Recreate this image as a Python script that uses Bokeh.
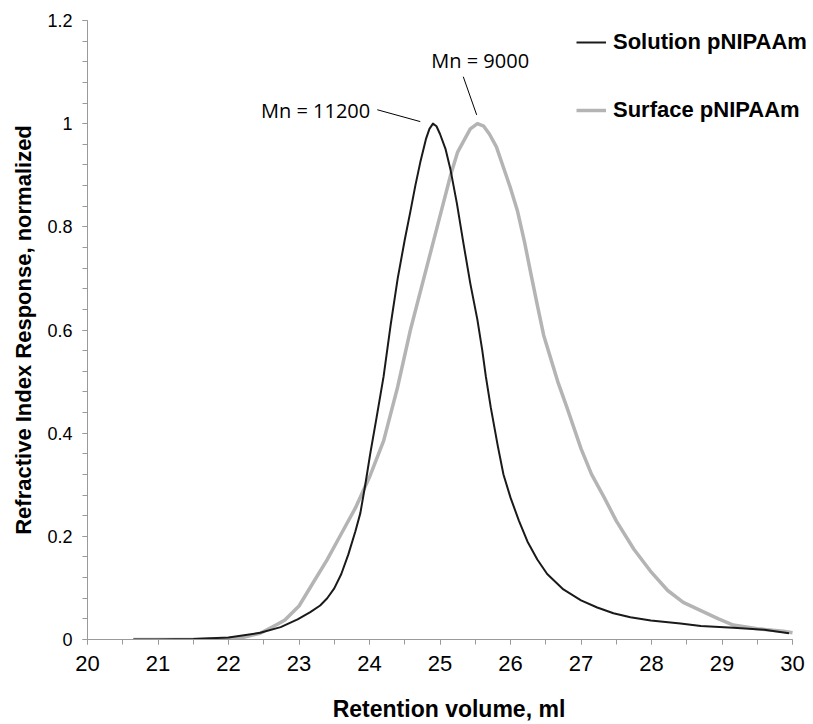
from bokeh.plotting import figure
from bokeh.models import Range1d, FixedTicker, Legend, LegendItem, Label
from bokeh.embed import file_html
from bokeh.resources import INLINE

# ---- data ----
solution_x = [20.65, 21.0, 21.5, 22.0, 22.45, 22.74, 22.98, 23.16, 23.3, 23.4,
              23.5, 23.6, 23.7, 23.8, 23.87, 23.94, 24.01, 24.1, 24.2, 24.3,
              24.4, 24.5, 24.58, 24.65, 24.72, 24.8, 24.85, 24.9, 24.95, 25.0,
              25.08, 25.15, 25.24, 25.33, 25.43, 25.53, 25.6, 25.65, 25.72, 25.82,
              25.9, 26.0, 26.12, 26.24, 26.38, 26.52, 26.75, 27.0, 27.23, 27.46,
              27.7, 27.99, 28.41, 28.7, 29.16, 29.6, 29.95]
solution_y = [0.0, 0.0, 0.001, 0.004, 0.013, 0.024, 0.039, 0.053, 0.066, 0.08,
              0.099, 0.127, 0.165, 0.21, 0.245, 0.30, 0.36, 0.43, 0.51, 0.61,
              0.70, 0.775, 0.83, 0.88, 0.925, 0.97, 0.99, 1.0, 0.995, 0.98,
              0.95, 0.91, 0.845, 0.77, 0.69, 0.62, 0.56, 0.51, 0.45, 0.375,
              0.32, 0.275, 0.23, 0.19, 0.155, 0.127, 0.097, 0.076, 0.062, 0.051,
              0.043, 0.037, 0.031, 0.026, 0.023, 0.019, 0.012]

surface_x = [20.65, 21.0, 21.5, 22.0, 22.2, 22.45, 22.7, 22.8, 23.0, 23.2,
             23.4, 23.6, 23.8, 24.0, 24.2, 24.4, 24.58, 24.77, 24.96, 25.15,
             25.25, 25.35, 25.43, 25.53, 25.62, 25.7, 25.8, 25.9, 26.0, 26.1,
             26.2, 26.28, 26.37, 26.47, 26.57, 26.67, 26.8, 27.0, 27.15, 27.33,
             27.5, 27.75, 28.0, 28.23, 28.45, 28.7, 28.95, 29.16, 29.5, 29.87,
             30.0]
surface_y = [0.0, 0.0, 0.0, 0.002, 0.004, 0.012, 0.03, 0.038, 0.065, 0.11,
             0.155, 0.205, 0.255, 0.315, 0.385, 0.49, 0.60, 0.70, 0.80, 0.90,
             0.945, 0.97, 0.99, 1.0, 0.995, 0.98, 0.955, 0.915, 0.875, 0.83,
             0.77, 0.715, 0.655, 0.59, 0.545, 0.50, 0.45, 0.37, 0.32, 0.275,
             0.23, 0.175, 0.13, 0.095, 0.072, 0.056, 0.04, 0.028, 0.021, 0.016,
             0.013]

series_names = ["Solution pNIPAAm", "Surface pNIPAAm"]

y_ticks = [0, 0.2, 0.4, 0.6, 0.8, 1, 1.2]
y_tick_labels = ["0", "0.2", "0.4", "0.6", "0.8", "1", "1.2"]
x_ticks = [20, 21, 22, 23, 24, 25, 26, 27, 28, 29, 30]

annot_texts = ["Mn = 11200", "Mn = 9000"]
annot_text_x = [24.01, 25.57]
annot_text_y = [1.025, 1.122]
leader_x0 = [24.11, 25.33]
leader_y0 = [1.027, 1.091]
leader_x1 = [24.72, 25.52]
leader_y1 = [1.004, 1.017]

# ---- figure ----
p = figure(width=813, height=724, output_backend="svg", toolbar_location=None,
           x_range=Range1d(20, 30.255), y_range=Range1d(0, 1.2),
           min_border_left=87, min_border_right=3, min_border_top=20, min_border_bottom=85)
p.outline_line_color = None
p.grid.grid_line_color = None
p.background_fill_color = "white"
p.border_fill_color = "white"

axis_col = "#9a9a9a"

# x axis
xa = p.xaxis[0]
xa.bounds = (20, 30)
xa.ticker = FixedTicker(ticks=x_ticks, minor_ticks=[20 + 0.5 * i for i in range(21)])
xa.axis_line_color = axis_col
xa.major_tick_line_color = axis_col
xa.minor_tick_line_color = axis_col
xa.major_tick_in = 0
xa.major_tick_out = 5
xa.minor_tick_in = 0
xa.minor_tick_out = 5
xa.major_label_text_font = "Liberation Sans"
xa.major_label_text_font_size = "22px"
xa.major_label_text_color = "black"
xa.major_label_standoff = 11
xa.axis_label = "Retention volume, ml"
xa.axis_label_text_font = "Liberation Sans"
xa.axis_label_text_font_style = "bold"
xa.axis_label_text_font_size = "23px"
xa.axis_label_text_color = "black"
xa.axis_label_standoff = 22

# y axis
ya = p.yaxis[0]
ya.ticker = FixedTicker(ticks=y_ticks, minor_ticks=[round(0.04 * i, 2) for i in range(31)])
ya.major_label_overrides = {t: l for t, l in zip(y_ticks, y_tick_labels)}
ya.axis_line_color = axis_col
ya.major_tick_line_color = axis_col
ya.minor_tick_line_color = axis_col
ya.major_tick_in = 0
ya.major_tick_out = 5
ya.minor_tick_in = 0
ya.minor_tick_out = 5
ya.major_label_text_font = "Liberation Sans"
ya.major_label_text_font_size = "18px"
ya.major_label_text_color = "black"
ya.major_label_standoff = 10
ya.axis_label = "Refractive Index Response, normalized"
ya.axis_label_text_font = "Liberation Sans"
ya.axis_label_text_font_style = "bold"
ya.axis_label_text_font_size = "22px"
ya.axis_label_text_color = "black"
ya.axis_label_standoff = 8

# curves
r_surf = p.line(surface_x, surface_y, line_color="#b4b4b4", line_width=3.5, line_join="round")
r_sol = p.line(solution_x, solution_y, line_color="#1a1a1a", line_width=2, line_join="round")

# annotations
for i, (t, tx, ty) in enumerate(zip(annot_texts, annot_text_x, annot_text_y)):
    p.add_layout(Label(x=tx, y=ty, text=t, text_font="Open Sans", text_font_size="20px",
                       text_color="black",
                       text_align="right" if i == 0 else "center",
                       text_baseline="middle"))
p.segment(x0=leader_x0, y0=leader_y0, x1=leader_x1, y1=leader_y1,
          line_color="black", line_width=1)

legend = Legend(items=[LegendItem(label=series_names[0], renderers=[r_sol]),
                       LegendItem(label=series_names[1], renderers=[r_surf])],
                location=(489, 516), orientation="vertical",
                label_text_font="Liberation Sans", label_text_font_style="bold",
                label_text_font_size="22px", label_text_color="black",
                glyph_width=30, glyph_height=24, label_height=24, label_standoff=7,
                spacing=42, padding=0, margin=0,
                border_line_color=None, background_fill_alpha=0)
p.add_layout(legend)

open("out.html", "w").write(file_html(p, INLINE))
